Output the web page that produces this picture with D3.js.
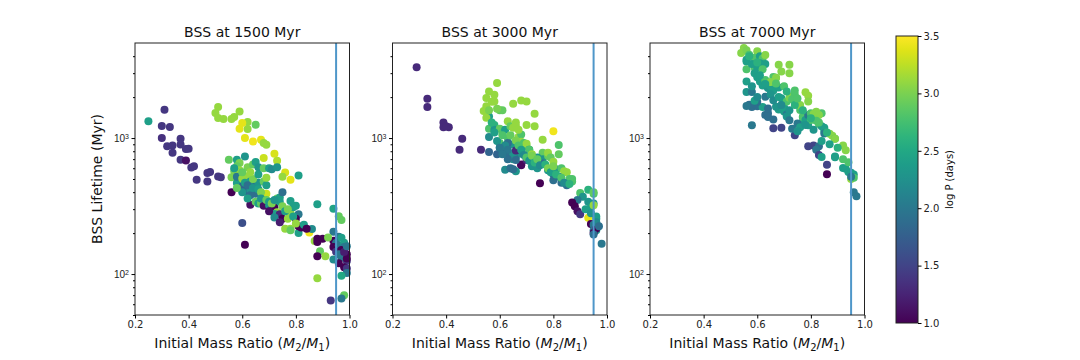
<!DOCTYPE html>
<html>
<head>
<meta charset="utf-8">
<script src="https://cdn.jsdelivr.net/npm/d3@7"></script>
<style>
  body { margin: 0; background: #fff; }
  svg { font-family: "DejaVu Sans", sans-serif; }
</style>
</head>
<body>
<div id="chart"></div>
<script>
// panel titles and tick labels
const titles = ["BSS at 1500 Myr", "BSS at 3000 Myr", "BSS at 7000 Myr"];
const xTicks = [0.2, 0.4, 0.6, 0.8, 1.0];
const yMajor = [100, 1000];
const yMinor = [50, 60, 70, 80, 90, 200, 300, 400, 500, 600, 700, 800, 900, 2000, 3000, 4000];
const cbTicks = [1.0, 1.5, 2.0, 2.5, 3.0, 3.5];
const qCut = 0.95;

// 1500 Myr
const q1500 = [0.25,0.31,0.30,0.33,0.30,0.32,0.34,0.34,0.37,0.37,0.39,0.40,0.37,0.39,0.41,0.42,0.43,0.47,0.48,0.47,0.51,0.52,0.60,0.61,
  0.51,0.50,0.51,0.53,0.56,0.57,0.59,0.62,0.62,0.65,0.59,0.60,0.61,0.64,0.67,0.68,0.69,0.68,0.72,0.73,0.76,0.78,0.81,
  0.55,0.58,0.61,0.59,0.58,0.57,0.59,0.62,0.64,0.65,0.66,0.68,0.70,0.71,0.73,0.75,0.56,0.56,0.58,0.58,0.60,0.62,0.63,
  0.60,0.61,0.63,0.63,0.65,0.65,0.66,0.65,0.68,0.69,0.69,0.68,0.69,0.63,0.65,0.66,0.67,0.68,0.70,0.71,0.72,0.73,0.74,
  0.75,0.74,0.75,0.73,0.72,0.74,0.75,0.77,0.78,0.78,0.79,0.80,0.81,0.80,0.78,0.76,0.78,0.81,0.81,0.82,0.85,0.87,0.88,
  0.88,0.90,0.88,0.94,0.96,0.97,0.94,0.96,0.94,0.95,0.94,0.96,0.98,0.98,0.95,0.97,0.99,0.89,0.91,0.88,0.97,0.99,0.98,
  0.99,0.99,0.97,0.88,0.98,0.97,0.93,0.99,0.96,0.92,0.86,
  0.57,0.60,0.61,0.62,0.64,0.64,0.66,0.67,0.67,0.69,0.70,0.71,0.72,0.70,0.76,0.77,0.79,0.80,0.83,0.84,0.62,0.60,0.58,
  0.66,0.63,0.72,0.74,0.97,0.96,0.94,0.98,0.99];
const life1500 = [1330,1616,1225,1205,1000,870,880,780,990,895,830,835,693,685,608,620,494,553,562,480,522,514,237,164,
  1690,1527,1403,1380,1380,1427,1570,1311,1165,1253,1170,1290,1000,945,970,919,893,713,767,681,559,494,530,
  693,693,733,655,620,570,580,610,640,666,610,600,600,590,610,520,514,400,467,520,505,520,480,
  441,405,415,380,460,440,470,390,480,450,510,373,390,323,340,330,330,318,320,300,310,360,365,
  400,340,315,285,276,275,255,255,280,345,310,318,275,255,215,215,210,200,225,220,202,175,182,
  172,182,326,302,266,250,205,188,176,169,158,162,170,158,146,150,140,147,135,135,132,125,112,
  110,102,97,93,70,66,64,130,140,186,214,
  600,560,470,450,500,430,420,400,360,350,340,330,350,290,290,300,265,235,230,215,360,400,430,
  540,560,260,240,185,120,128,145,160];
const logP1500 = [2.4,1.4,1.4,1.4,1.35,1.4,1.4,1.4,1.4,1.4,1.4,1.4,1.4,1.1,1.4,1.4,1.4,1.4,1.4,1.4,1.4,1.4,1.6,1.0,
  3.1,3.1,3.1,3.1,3.1,3.1,3.1,3.1,3.1,2.9,3.4,3.4,3.4,3.45,3.4,3.1,3.1,3.3,3.35,3.2,3.35,3.4,2.4,
  2.9,2.4,2.3,3.0,2.9,3.0,3.1,3.0,2.9,2.4,2.3,2.9,2.4,2.2,2.3,3.1,3.0,1.0,2.4,2.0,3.1,3.1,2.4,
  1.8,1.8,2.3,1.9,2.3,1.9,2.3,1.9,2.9,2.4,3.1,3.1,3.3,1.1,2.9,2.4,2.9,1.1,2.3,1.9,1.0,2.9,2.4,
  1.9,2.4,3.0,3.1,2.4,1.3,1.0,3.1,3.1,2.4,2.4,2.4,2.0,1.0,3.1,3.1,2.9,2.4,1.0,1.0,3.45,3.1,1.0,
  1.0,1.0,2.4,2.45,2.9,2.9,2.0,2.0,1.0,2.0,1.0,2.0,2.4,2.0,1.4,1.0,1.0,2.9,3.1,1.0,2.0,1.4,1.0,
  1.4,2.0,2.5,3.1,2.9,2.0,1.4,1.0,2.0,3.0,2.2,
  2.4,2.9,2.4,1.9,3.0,2.3,2.4,3.0,2.3,2.9,2.4,3.0,2.3,1.1,2.4,3.0,2.4,3.1,2.4,1.0,2.4,2.3,2.9,
  2.4,3.1,2.2,1.2,2.4,1.0,2.2,1.2,2.0];

// 3000 Myr
const q3000 = [0.29,0.33,0.33,0.39,0.39,0.41,0.40,0.46,0.45,0.53,0.56,0.59,0.56,0.56,0.56,0.55,0.56,0.55,0.54,0.58,0.58,0.59,
  0.55,0.60,0.61,0.59,0.58,0.58,0.60,0.61,0.62,0.63,0.64,0.65,0.66,0.66,0.63,0.65,0.63,0.62,0.60,0.60,0.62,0.64,0.66,0.65,
  0.67,0.68,0.68,0.69,0.70,0.70,0.71,0.71,0.72,0.68,0.66,0.68,0.68,0.70,0.65,0.62,0.64,0.66,0.65,0.68,0.70,0.65,0.73,0.70,
  0.73,0.76,0.76,0.74,0.76,0.78,0.78,0.79,0.80,0.82,0.82,0.80,0.72,0.74,0.76,0.78,0.80,0.81,0.83,0.84,0.85,0.86,0.87,0.82,
  0.80,0.83,0.85,0.87,0.75,0.90,0.93,0.95,0.95,0.91,0.93,0.95,0.94,0.96,0.96,0.95,0.93,0.89,0.87,0.88,0.89,0.90,0.94,0.95,
  0.95,0.96,0.96,0.95,0.95,0.98,
  0.57,0.58,0.59,0.61,0.62,0.63,0.60,0.64,0.66,0.67,0.68,0.69,0.70,0.71,0.72,0.73,0.74,0.75,0.77,0.78,0.79,0.80,0.81,0.83,
  0.84,0.86,0.67,0.56,0.57,0.63,0.61,0.66,0.92,0.94,0.96,0.97];
const life3000 = [3310,1945,1690,1300,1200,1200,1220,990,820,820,790,760,1020,1170,1440,1970,2200,1710,1580,1860,2080,2540,
  1410,1600,1600,1640,1250,1150,1170,1090,1150,1330,1220,1190,1230,1300,1000,900,920,870,920,850,770,740,730,
  770,1020,1060,940,920,870,910,820,820,760,770,810,640,630,690,700,585,600,570,590,1890,1860,1790,1510,1250,
  1220,970,780,720,700,740,780,720,670,760,890,1120,620,600,650,580,540,590,600,570,560,500,480,520,
  490,470,450,500,466,394,417,390,400,370,340,330,310,265,255,320,259,350,336,315,290,275,233,230,
  209,210,216,200,195,167,
  1300,1100,950,1050,880,820,850,1050,960,880,820,750,720,680,740,660,700,630,640,600,560,620,540,510,
  470,460,1150,1600,1850,700,760,690,300,280,240,225];
const logP3000 = [1.3,1.3,1.3,1.3,1.3,1.3,1.3,1.3,1.3,1.3,1.8,1.8,2.2,2.8,2.4,3.1,3.1,3.1,3.1,3.1,3.1,3.1,
  3.1,2.9,2.9,3.0,2.6,2.3,2.9,2.8,2.4,3.1,2.9,3.1,3.1,3.1,2.8,2.3,1.9,2.3,2.8,1.9,1.9,1.9,1.9,
  2.3,3.1,2.8,3.1,2.8,2.9,3.1,2.3,2.8,3.1,2.3,1.3,1.05,1.05,1.3,2.3,2.2,1.9,2.3,1.9,3.1,3.1,3.1,3.1,3.1,
  3.1,3.1,2.9,2.3,2.3,2.9,3.1,2.9,3.1,2.9,2.8,3.45,2.3,2.3,1.9,2.3,1.9,2.3,2.8,3.1,3.1,2.8,2.8,2.2,
  1.9,1.9,1.9,2.8,1.0,2.8,2.6,2.8,2.9,2.3,2.3,2.3,2.4,2.4,2.4,3.1,3.4,2.0,1.0,1.0,1.1,1.4,1.0,2.0,
  2.0,2.3,1.0,1.0,1.9,2.0,
  2.6,2.4,2.3,2.8,2.2,2.0,2.0,2.9,3.0,2.8,2.4,2.2,2.8,2.3,3.0,2.6,2.9,2.2,2.6,3.0,2.4,3.0,2.6,2.8,
  2.2,2.6,3.1,3.0,3.1,1.9,2.0,1.9,2.4,2.3,2.2,1.9];

// 7000 Myr
const q7000 = [0.55,0.54,0.56,0.57,0.56,0.56,0.60,0.59,0.61,0.62,0.63,0.61,0.63,0.59,0.60,0.59,0.56,0.56,0.58,0.56,0.60,
  0.61,0.62,0.63,0.64,0.64,0.65,0.66,0.67,0.66,0.68,0.65,0.67,0.68,0.69,0.72,0.72,0.67,0.63,0.57,0.58,0.60,0.62,0.60,
  0.63,0.64,0.64,0.66,0.66,0.69,0.68,0.67,0.70,0.70,0.71,0.71,0.72,0.69,0.71,0.72,0.73,0.74,0.74,0.73,0.75,0.76,0.76,
  0.77,0.77,0.75,0.74,0.73,0.76,0.75,0.77,0.78,0.79,0.79,0.80,0.80,0.81,0.84,0.82,0.83,0.78,0.79,0.79,0.82,0.83,0.84,
  0.85,0.85,0.85,0.79,0.81,0.83,0.82,0.83,0.84,0.84,0.87,0.88,0.89,0.89,0.92,0.93,0.89,0.89,0.86,0.86,0.92,0.93,0.94,
  0.94,0.95,0.95,0.96,0.96,0.95,0.96,0.97,0.56,0.59,0.58,
  0.57,0.58,0.60,0.62,0.61,0.63,0.65,0.66,0.68,0.69,0.70,0.71,0.72,0.74,0.75,0.77,0.78,0.80,0.81,0.83,0.86,0.87,0.90,
  0.92,0.64,0.60,0.58];
const life7000 = [4590,4220,4420,4100,3770,3660,4340,3900,4000,3850,4080,3550,3500,3300,3270,3000,2600,2180,2180,3210,2800,
  2610,2430,2670,2350,2330,2400,2240,2780,2810,2350,2580,2780,3460,3090,3460,3000,2520,2010,1760,1690,1710,1690,1840,
  1480,1430,1520,1370,1180,1190,1620,1700,1680,1570,1490,1440,1350,1960,1860,1980,2040,2090,2240,1930,1760,1610,
  1750,1430,1310,1280,1050,1170,1200,1120,1430,1360,1480,1240,1360,1520,1500,1520,1560,1480,2170,2050,1860,1340,
  1270,1220,1190,1130,1080,870,880,870,820,750,725,950,1076,1040,990,990,883,812,733,723,636,541,603,595,663,
  563,555,500,540,510,520,400,373,1720,1880,1240,
  4000,3500,3600,3200,2900,2500,2100,1900,2000,1750,2400,2200,1600,1750,1950,1600,1250,1400,1150,1300,1100,900,850,
  700,1650,2000,2400];
const logP7000 = [3.05,3.05,3.0,2.8,2.4,2.4,3.05,2.8,2.4,2.8,3.05,2.4,2.4,2.8,2.4,2.4,2.4,2.3,2.0,2.8,2.4,
  2.4,2.4,2.8,2.4,2.3,2.4,2.4,3.0,2.8,2.4,3.05,3.05,3.05,3.05,3.05,3.05,2.8,2.0,1.9,1.9,1.9,2.4,1.9,
  1.9,1.9,1.9,1.9,1.5,1.5,2.4,2.3,2.4,2.4,2.0,2.3,2.0,2.4,2.8,3.0,3.05,2.8,2.8,2.8,2.4,2.8,3.05,
  2.8,2.4,2.0,1.5,2.0,2.4,2.3,2.8,2.4,2.0,2.4,2.8,2.8,3.05,2.8,3.05,3.05,3.1,3.1,3.05,2.8,2.8,2.4,
  2.4,2.4,2.0,1.5,1.5,1.9,2.0,1.5,2.4,2.4,3.05,3.05,2.8,3.05,3.05,3.05,2.4,2.4,1.5,1.0,2.4,2.4,2.8,
  2.4,2.4,3.1,2.4,2.8,2.0,2.0,2.0,2.0,2.4,2.0,
  2.6,2.4,2.6,2.8,2.4,2.4,2.3,2.2,2.4,2.2,2.8,2.6,2.3,2.6,2.8,2.6,2.3,2.6,2.3,2.8,2.6,2.4,2.6,
  2.8,1.9,2.2,2.3];

var BSSModule = (() => {

  const width = 1080,
    height = 360,
    axTop = 43,
    axBottom = 315,
    axWidth = 214.5,
    axLefts = [135, 392.5, 650];

  const panels = [
    { q: q1500, life: life1500, logP: logP1500 },
    { q: q3000, life: life3000, logP: logP3000 },
    { q: q7000, life: life7000, logP: logP7000 }
  ];

  const color = d3.scaleSequential(d3.interpolateViridis).domain([1.0, 3.5]);

  const yScale = d3.scaleLog()
    .domain([50, 5000])
    .range([axBottom, axTop]);

  const svg = d3.select("#chart")
    .append("svg")
    .attr("width", width)
    .attr("height", height);

  function drawPanel(p, i) {
    const left = axLefts[i];
    const xScale = d3.scaleLinear()
      .domain([0.2, 1.0])
      .range([left, left + axWidth]);

    const g = svg.append("g");

    // points
    g.append("g")
      .selectAll("circle")
      .data(d3.range(p.q.length))
      .join("circle")
      .attr("cx", k => xScale(p.q[k]))
      .attr("cy", k => yScale(p.life[k]))
      .attr("r", 4)
      .attr("fill", k => color(p.logP[k]));

    // q = 0.95 line
    g.append("line")
      .attr("x1", xScale(qCut)).attr("x2", xScale(qCut))
      .attr("y1", axTop).attr("y2", axBottom)
      .attr("stroke", "#4f97c9")
      .attr("stroke-width", 2);

    // frame
    g.append("rect")
      .attr("x", left).attr("y", axTop)
      .attr("width", axWidth).attr("height", axBottom - axTop)
      .attr("fill", "none")
      .attr("stroke", "#222")
      .attr("stroke-width", 1);

    // x axis
    g.append("g")
      .attr("transform", `translate(0,${axBottom})`)
      .call(d3.axisBottom(xScale).tickValues(xTicks).tickFormat(d3.format(".1f")).tickSize(3.5).tickPadding(2))
      .call(a => a.select(".domain").remove())
      .call(a => a.selectAll("text").attr("font-size", 10).attr("fill", "#222").attr("font-family", "DejaVu Sans"));

    // y minor ticks
    g.append("g")
      .attr("transform", `translate(${left},0)`)
      .call(d3.axisLeft(yScale).tickValues(yMinor).tickFormat("").tickSize(2))
      .call(a => a.select(".domain").remove());

    // y major ticks, labelled 10^n
    const yAx = g.append("g")
      .attr("transform", `translate(${left},0)`)
      .call(d3.axisLeft(yScale).tickValues(yMajor).tickFormat("").tickSize(3.5))
      .call(a => a.select(".domain").remove());
    yAx.selectAll(".tick").each(function (d) {
      const t = d3.select(this).append("text")
        .attr("x", -6).attr("dy", "0.32em")
        .attr("text-anchor", "end")
        .attr("font-size", 10)
        .attr("fill", "#222");
      t.append("tspan").text("10");
      t.append("tspan").attr("dy", "-0.45em").attr("font-size", 7).text(Math.round(Math.log10(d)));
    });

    // title
    g.append("text")
      .attr("x", left + axWidth / 2).attr("y", 37)
      .attr("text-anchor", "middle")
      .attr("font-size", 14)
      .attr("fill", "#111")
      .text(titles[i]);

    // x label
    const xl = g.append("text")
      .attr("x", left + axWidth / 2).attr("y", 348)
      .attr("text-anchor", "middle")
      .attr("font-size", 14)
      .attr("fill", "#111");
    xl.append("tspan").text("Initial Mass Ratio (");
    xl.append("tspan").attr("font-style", "italic").text("M");
    xl.append("tspan").attr("font-size", 10).attr("dy", 3).text("2");
    xl.append("tspan").attr("dy", -3).text("/");
    xl.append("tspan").attr("font-style", "italic").text("M");
    xl.append("tspan").attr("font-size", 10).attr("dy", 3).text("1");
    xl.append("tspan").attr("dy", -3).text(")");
  }

  function drawColorbar() {
    const cbLeft = 896, cbW = 22, cbTop = 36, cbBottom = 323;
    const cScale = d3.scaleLinear().domain([1.0, 3.5]).range([cbBottom, cbTop]);

    const grad = svg.append("defs").append("linearGradient")
      .attr("id", "viridis")
      .attr("x1", 0).attr("y1", 1).attr("x2", 0).attr("y2", 0);
    d3.range(0, 1.0001, 0.05).forEach(t => {
      grad.append("stop")
        .attr("offset", t)
        .attr("stop-color", d3.interpolateViridis(t));
    });

    svg.append("rect")
      .attr("x", cbLeft).attr("y", cbTop)
      .attr("width", cbW).attr("height", cbBottom - cbTop)
      .attr("fill", "url(#viridis)")
      .attr("stroke", "#222")
      .attr("stroke-width", 1);

    svg.append("g")
      .attr("transform", `translate(${cbLeft + cbW},0)`)
      .call(d3.axisRight(cScale).tickValues(cbTicks).tickFormat(d3.format(".1f")).tickSize(3.5).tickPadding(2))
      .call(a => a.select(".domain").remove())
      .call(a => a.selectAll("text").attr("font-size", 10).attr("fill", "#222").attr("font-family", "DejaVu Sans"));

    svg.append("text")
      .attr("transform", `translate(953,${(cbTop + cbBottom) / 2}) rotate(-90)`)
      .attr("text-anchor", "middle")
      .attr("font-size", 10)
      .attr("fill", "#111")
      .text("log P (days)");
  }

  panels.forEach(drawPanel);

  svg.append("text")
    .attr("transform", `translate(102,${(axTop + axBottom) / 2}) rotate(-90)`)
    .attr("text-anchor", "middle")
    .attr("font-size", 14)
    .attr("fill", "#111")
    .text("BSS Lifetime (Myr)");

  drawColorbar();

})();
</script>
</body>
</html>
